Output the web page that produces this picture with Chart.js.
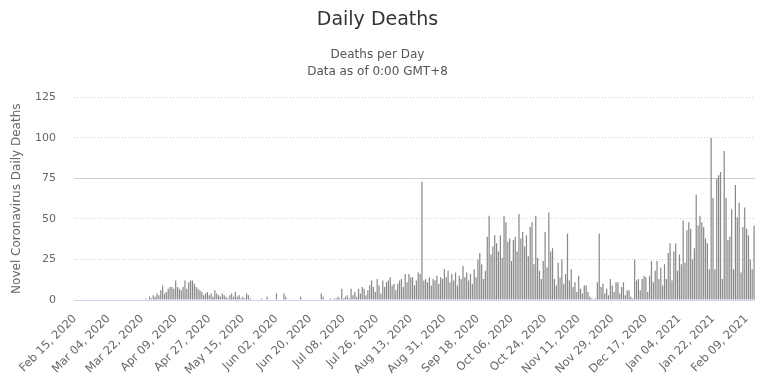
<!DOCTYPE html>
<html>
<head>
<meta charset="utf-8">
<script src="https://cdn.jsdelivr.net/npm/chart.js@4.4.1/dist/chart.umd.min.js"></script>
<style>
  html, body { margin: 0; padding: 0; background: #fff; }
  #wrap { width: 773px; height: 388px; }
</style>
</head>
<body>
<div id="wrap"><canvas id="deathsChart" width="773" height="388"></canvas></div>
<script>
// daily deaths, one array per month (first day: Feb 15, 2020)
const feb2020 = [0,0,0,0,0,0,0,0,0,0,0,0,0,0,0];
const mar2020 = [0,0,0,0,0,0,0,0,0,0,0,0,0,0,0,0,0,0,0,0,0,0,0,1,0,2,1,3,2,4,3];
const apr2020 = [6,9,4,5,7,8,8,7,12,8,7,6,8,12,7,11,12,12,10,8,7,6,5,3,4,5,3,4,2,6];
const may2020 = [4,3,2,4,3,2,1,3,4,2,5,2,3,1,2,1,4,3,1,0,0,0,0,0,1,0,0,2,0,0,0];
const jun2020 = [0,4,0,0,0,4,2,0,0,0,0,0,0,0,2,0,0,0,0,0,0,0,0,0,0,4,2,0,0,0];
const jul2020 = [1,0,1,1,2,1,7,1,2,3,1,7,3,5,2,7,4,8,7,3,6,9,12,8,5,13,9,4,12,8,11];
const aug2020 = [12,14,9,10,6,10,12,13,8,16,11,16,14,14,9,12,17,16,73,12,13,11,14,9,13,12,15,10,14,13,19];
const sep2020 = [14,18,11,16,12,17,9,15,13,21,14,17,12,16,10,19,14,25,29,22,13,18,39,52,28,33,40,35,30,40];
const oct2020 = [26,52,48,36,38,24,37,39,30,53,38,42,33,40,27,45,48,22,52,26,18,13,24,42,20,54,30,32,13,9,23];
const nov2020 = [14,25,10,16,41,12,19,8,11,5,15,7,4,9,9,5,2,1,0,1,11,41,8,10,4,7,3,13,9,5];
const dec2020 = [11,11,4,8,11,3,6,6,2,1,25,12,13,6,13,15,14,5,15,24,11,18,24,13,20,9,22,13,29,35,12];
const jan2021 = [30,35,18,28,22,49,23,43,48,44,25,32,65,46,52,48,45,38,35,19,100,63,19,75,77,79,13,92,63,37,39];
const feb2021 = [56,19,71,51,60,17,45,57,44,40,25,19,46];

const deaths = [].concat(feb2020, mar2020, apr2020, may2020, jun2020, jul2020,
  aug2020, sep2020, oct2020, nov2020, dec2020, jan2021, feb2021);

const tickLabels = ['Feb 15, 2020','Mar 04, 2020','Mar 22, 2020','Apr 09, 2020','Apr 27, 2020',
  'May 15, 2020','Jun 02, 2020','Jun 20, 2020','Jul 08, 2020','Jul 26, 2020','Aug 13, 2020',
  'Aug 31, 2020','Sep 18, 2020','Oct 06, 2020','Oct 24, 2020','Nov 11, 2020','Nov 29, 2020',
  'Dec 17, 2020','Jan 04, 2021','Jan 22, 2021','Feb 09, 2021'];
const yTicks = [0, 25, 50, 75, 100, 125];

// one category per day
const months = ['Jan','Feb','Mar','Apr','May','Jun','Jul','Aug','Sep','Oct','Nov','Dec'];
const categories = deaths.map((v, i) => {
  const d = new Date(Date.UTC(2020, 1, 15 + i));
  return months[d.getUTCMonth()] + ' ' + String(d.getUTCDate()).padStart(2, '0') + ', ' + d.getUTCFullYear();
});

const FONT = "'DejaVu Sans', sans-serif";

new Chart(document.getElementById('deathsChart'), {
  type: 'bar',
  data: {
    labels: categories,
    datasets: [{
      label: 'Daily Deaths',
      data: deaths,
      backgroundColor: '#888888',
      barPercentage: 0.65,
      categoryPercentage: 1.0
    }]
  },
  options: {
    responsive: false,
    animation: false,
    layout: { padding: { left: 0, right: 18, top: 0, bottom: 0 } },
    plugins: {
      legend: { display: false },
      tooltip: { enabled: false },
      title: {
        display: true,
        text: 'Daily Deaths',
        color: '#333',
        font: { family: FONT, size: 19, weight: 'normal' },
        padding: { top: 9, bottom: 15 }
      },
      subtitle: {
        display: true,
        text: ['Deaths per Day', 'Data as of 0:00 GMT+8'],
        color: '#555',
        font: { family: FONT, size: 12, lineHeight: 1.4 },
        padding: { top: 0, bottom: 17 }
      }
    },
    scales: {
      x: {
        grid: { display: false },
        border: { display: false },
        ticks: {
          autoSkip: false,
          maxRotation: 45,
          minRotation: 45,
          padding: 4,
          color: '#666',
          font: { family: FONT, size: 11.5 },
          callback: function (value, index) {
            const lab = this.getLabelForValue(value);
            return tickLabels.includes(lab) ? lab : null;
          }
        },
        afterFit: scale => { scale.height = 88; }
      },
      y: {
        min: 0,
        max: 125,
        afterBuildTicks: scale => { scale.ticks = yTicks.map(v => ({ value: v })); },
        ticks: { color: '#666', padding: 18, font: { family: FONT, size: 11 } },
        grid: {
          drawTicks: false,
          color: ctx => ctx.tick.value === 0 ? '#ccd6eb' : (ctx.tick.value === 75 ? '#c6d2c4' : '#d8c6da')
        },
        border: {
          display: false,
          dash: ctx => (ctx.tick && (ctx.tick.value === 0 || ctx.tick.value === 75)) ? [] : [1, 2]
        },
        title: {
          display: true,
          text: 'Novel Coronavirus Daily Deaths',
          color: '#666',
          font: { family: FONT, size: 12 },
          padding: { top: 10, bottom: 0 }
        },
        afterFit: scale => { scale.width = 74; }
      }
    }
  }
});
</script>
</body>
</html>
